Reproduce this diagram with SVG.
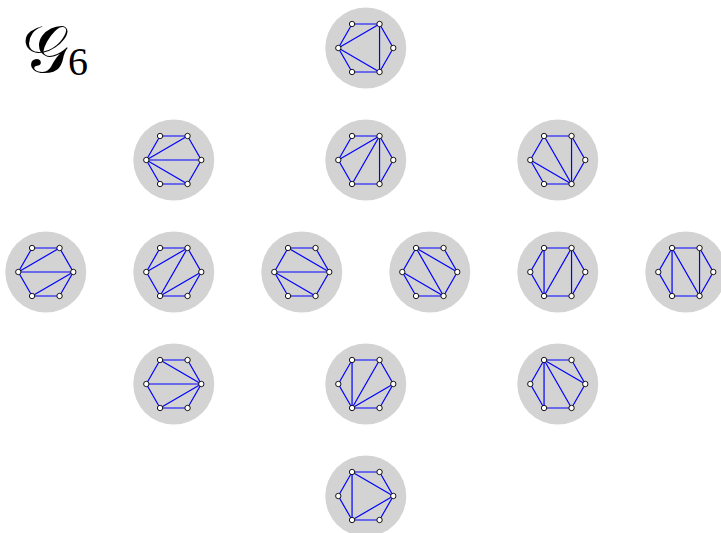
<svg xmlns="http://www.w3.org/2000/svg" xmlns:xlink="http://www.w3.org/1999/xlink" width="721" height="533" viewBox="0 0 721 533">
<style>
.e{stroke:#0000ff;stroke-width:1.2;fill:none}
.t{font-family:"DejaVu Serif","Liberation Serif",serif;fill:#000}
</style>
<defs>
<g id="base">
<circle r="40.5" fill="#d3d3d3"/>
<polygon points="-27.5,0 -13.75,-24 13.75,-24 27.5,0 13.75,24 -13.75,24" fill="none" stroke="#0000ff" stroke-width="1.2"/>
</g>
<g id="dots" fill="#ffffff" stroke="#000000" stroke-width="0.9">
<circle cx="-27.5" cy="0" r="2.7"/>
<circle cx="-13.75" cy="-24" r="2.7"/>
<circle cx="13.75" cy="-24" r="2.7"/>
<circle cx="27.5" cy="0" r="2.7"/>
<circle cx="13.75" cy="24" r="2.7"/>
<circle cx="-13.75" cy="24" r="2.7"/>
</g>
</defs>
<text class="t" x="22" y="72" font-size="66">𝒢</text>
<text x="68" y="75" font-size="40" font-family="Liberation Serif, serif">6</text>

<g id="n1" transform="translate(365.8,48)"><use xlink:href="#base"/><g class="e"><path d="M-27.5,0L13.75,-24M-27.5,0L13.75,24M13.75,-24L13.75,24"/></g><use xlink:href="#dots"/></g>

<g id="n2" transform="translate(173.8,160)"><use xlink:href="#base"/><g class="e"><path d="M-27.5,0L13.75,-24M-27.5,0L27.5,0M-27.5,0L13.75,24"/></g><use xlink:href="#dots"/></g>
<g id="n3" transform="translate(365.8,160)"><use xlink:href="#base"/><g class="e"><path d="M13.75,-24L-27.5,0M13.75,-24L-13.75,24M13.75,-24L13.75,24"/></g><use xlink:href="#dots"/></g>
<g id="n4" transform="translate(557.8,160)"><use xlink:href="#base"/><g class="e"><path d="M-13.75,-24L13.75,24M-27.5,0L13.75,24M13.75,-24L13.75,24"/></g><use xlink:href="#dots"/></g>

<g id="n5" transform="translate(45.8,272)"><use xlink:href="#base"/><g class="e"><path d="M-27.5,0L13.75,-24M-27.5,0L27.5,0M27.5,0L-13.75,24"/></g><use xlink:href="#dots"/></g>
<g id="n6" transform="translate(173.8,272)"><use xlink:href="#base"/><g class="e"><path d="M-27.5,0L13.75,-24M13.75,-24L-13.75,24M27.5,0L-13.75,24"/></g><use xlink:href="#dots"/></g>
<g id="n7" transform="translate(301.8,272)"><use xlink:href="#base"/><g class="e"><path d="M-13.75,-24L27.5,0M-27.5,0L27.5,0M-27.5,0L13.75,24"/></g><use xlink:href="#dots"/></g>
<g id="n8" transform="translate(429.8,272)"><use xlink:href="#base"/><g class="e"><path d="M-13.75,-24L27.5,0M-13.75,-24L13.75,24M-27.5,0L13.75,24"/></g><use xlink:href="#dots"/></g>
<g id="n9" transform="translate(557.8,272)"><use xlink:href="#base"/><g class="e"><path d="M-13.75,-24L-13.75,24M13.75,-24L-13.75,24M13.75,-24L13.75,24"/></g><use xlink:href="#dots"/></g>
<g id="n10" transform="translate(685.8,272)"><use xlink:href="#base"/><g class="e"><path d="M-13.75,-24L-13.75,24M-13.75,-24L13.75,24M13.75,-24L13.75,24"/></g><use xlink:href="#dots"/></g>

<g id="n11" transform="translate(173.8,384)"><use xlink:href="#base"/><g class="e"><path d="M-13.75,-24L27.5,0M-27.5,0L27.5,0M27.5,0L-13.75,24"/></g><use xlink:href="#dots"/></g>
<g id="n12" transform="translate(365.8,384)"><use xlink:href="#base"/><g class="e"><path d="M-13.75,-24L-13.75,24M13.75,-24L-13.75,24M27.5,0L-13.75,24"/></g><use xlink:href="#dots"/></g>
<g id="n13" transform="translate(557.8,384)"><use xlink:href="#base"/><g class="e"><path d="M-13.75,-24L-13.75,24M-13.75,-24L13.75,24M-13.75,-24L27.5,0"/></g><use xlink:href="#dots"/></g>

<g id="n14" transform="translate(365.8,496)"><use xlink:href="#base"/><g class="e"><path d="M-13.75,-24L-13.75,24M-13.75,-24L27.5,0M27.5,0L-13.75,24"/></g><use xlink:href="#dots"/></g>
</svg>
